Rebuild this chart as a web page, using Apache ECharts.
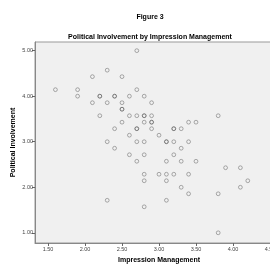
<!DOCTYPE html>
<html>
<head>
<meta charset="utf-8">
<script src="https://cdn.jsdelivr.net/npm/echarts@6/dist/echarts.min.js"></script>
<style>
  html, body { margin: 0; padding: 0; background: #fff; }
  #chart { width: 270px; height: 264px; }
</style>
</head>
<body>
<div id="chart"></div>
<script>
// Impression Management (x) vs Political Involvement (y), one entry per case
var impression = [
    2.7,
    2.3,
    2.1, 2.5,
    1.6, 1.9, 2.7,
    1.9, 2.2, 2.2, 2.4, 2.4, 2.6, 2.8,
    2.1, 2.3, 2.5, 2.9,
    2.5, 2.5,
    2.2, 2.6, 2.7, 2.8, 2.8, 2.9, 3.8,
    2.5, 2.8, 2.9, 2.9, 3.4, 3.5,
    2.4, 2.7, 2.7, 2.9, 3.2, 3.2, 3.3,
    2.6, 3.0,
    2.3, 2.7, 2.8, 3.1, 3.1, 3.2, 3.4,
    2.4, 3.3,
    2.6, 2.8, 3.2,
    2.7, 3.1, 3.3, 3.5,
    3.9, 4.1,
    2.8, 3.0, 3.1, 3.2, 3.4,
    2.8, 3.1, 4.2,
    3.3, 4.1,
    3.4, 3.8,
    2.3, 3.1,
    2.8,
    3.8
];
var involvement = [
    5.000,
    4.571,
    4.429, 4.429,
    4.143, 4.143, 4.143,
    4.000, 4.000, 4.000, 4.000, 4.000, 4.000, 4.000,
    3.857, 3.857, 3.857, 3.857,
    3.714, 3.714,
    3.571, 3.571, 3.571, 3.571, 3.571, 3.571, 3.571,
    3.429, 3.429, 3.429, 3.429, 3.429, 3.429,
    3.286, 3.286, 3.286, 3.286, 3.286, 3.286, 3.286,
    3.143, 3.143,
    3.000, 3.000, 3.000, 3.000, 3.000, 3.000, 3.000,
    2.857, 2.857,
    2.714, 2.714, 2.714,
    2.571, 2.571, 2.571, 2.571,
    2.429, 2.429,
    2.286, 2.286, 2.286, 2.286, 2.286,
    2.143, 2.143, 2.143,
    2.000, 2.000,
    1.857, 1.857,
    1.714, 1.714,
    1.571,
    1.000
];
var xTicks = [1.5, 2.0, 2.5, 3.0, 3.5, 4.0, 4.5];
var yTicks = [1, 2, 3, 4, 5];

var points = [];
for (var i = 0; i < impression.length; i++) {
    points.push([impression[i], involvement[i]]);
}

var labelStyle = {color: '#444', fontSize: 5.5, fontFamily: 'Liberation Sans'};
var nameStyle = {color: '#000', fontSize: 7, fontWeight: 'bold', fontFamily: 'Liberation Sans'};

var option = {
    backgroundColor: '#fff',
    animation: false,
    title: [{
        text: 'Figure 3',
        left: 145, top: 9,
        textAlign: 'center',
        textStyle: {fontSize: 7, fontWeight: 'bold', color: '#000', fontFamily: 'Liberation Sans'}
    }, {
        text: 'Political Involvement by Impression Management',
        left: 145, top: 29,
        textAlign: 'center',
        textStyle: {fontSize: 7, fontWeight: 'bold', color: '#000', fontFamily: 'Liberation Sans'}
    }],
    grid: {
        left: 35, top: 42, width: 248, bottom: 21,
        outerBoundsMode: 'none',
        show: true,
        backgroundColor: '#f0f0f0',
        borderColor: '#999',
        borderWidth: 1
    },
    xAxis: {
        type: 'value',
        min: 1.324, max: 4.676,
        name: 'Impression Management',
        nameLocation: 'middle',
        nameGap: 14,
        nameMoveOverlap: false,
        nameTextStyle: nameStyle,
        splitLine: {show: false},
        axisLine: {show: true, lineStyle: {color: '#888', width: 1}},
        axisTick: {show: true, length: 3, customValues: xTicks, lineStyle: {color: '#666'}},
        axisLabel: {
            customValues: xTicks,
            margin: 3,
            formatter: function (v) { return v.toFixed(2); },
            color: labelStyle.color, fontSize: labelStyle.fontSize, fontFamily: labelStyle.fontFamily
        }
    },
    yAxis: {
        type: 'value',
        min: 0.776, max: 5.19,
        name: 'Political Involvement',
        nameLocation: 'middle',
        nameGap: 18,
        nameMoveOverlap: false,
        nameTextStyle: nameStyle,
        splitLine: {show: false},
        axisLine: {show: true, lineStyle: {color: '#888', width: 1}},
        axisTick: {show: true, length: 3, customValues: yTicks, lineStyle: {color: '#666'}},
        axisLabel: {
            customValues: yTicks,
            margin: 2,
            formatter: function (v) { return v.toFixed(2); },
            color: labelStyle.color, fontSize: labelStyle.fontSize, fontFamily: labelStyle.fontFamily
        }
    },
    series: [{
        type: 'scatter',
        data: points,
        symbol: 'circle',
        symbolSize: 3.8,
        itemStyle: {
            color: 'transparent',
            borderColor: 'rgba(70,70,70,0.6)',
            borderWidth: 0.9
        }
    }]
};

echarts.init(document.getElementById('chart')).setOption(option);
</script>
</body>
</html>
